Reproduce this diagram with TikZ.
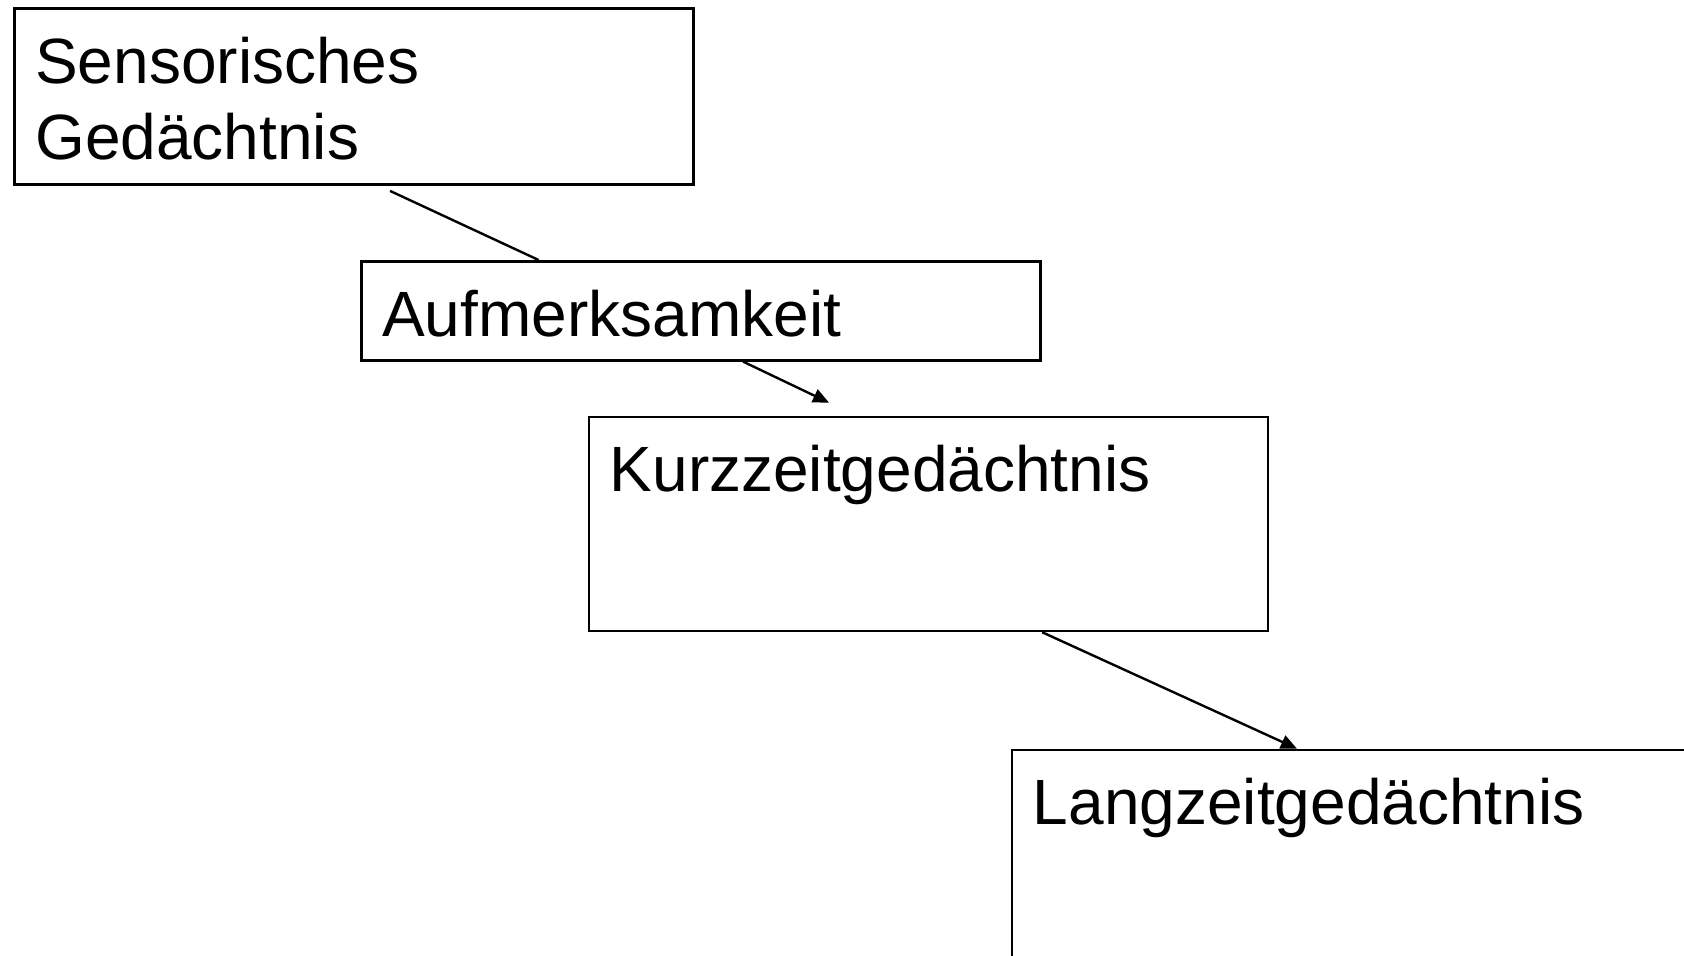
\documentclass[tikz,border=0pt]{standalone}
\usepackage{fontspec}
\setmainfont{Liberation Sans}
\usetikzlibrary{calc,arrows.meta}

\begin{document}
\begin{tikzpicture}[x=0.5pt,y=-0.5pt,
	box/.style={draw,line width=1.3pt,rectangle,anchor=north west,
		inner xsep=10.5pt,inner ysep=0pt,text width=318.5pt,align=left,
		text height=37.5pt,font=\fontsize{32}{38}\selectfont},
	link/.style={line width=1.2pt},
	arr/.style={line width=1.2pt,-{Triangle[length=8pt,width=7pt]}}]
	\useasboundingbox (0,0) rectangle (1684,956);
	\clip (0,0) rectangle (1684,956);
	
	\node[box,text depth=50.5pt] (S) at (13,7.5) {Sensorisches\\Gedächtnis};
	\node[box,text depth=12pt] (A) at (360,260) {Aufmerksamkeit};
	\node[box,text depth=69.5pt] (K) at (587.5,415.6) {Kurzzeitgedächtnis};
	\node[box,text depth=69.5pt] (L) at (1010.6,748.6) {Langzeitgedächtnis};
	
	
	\draw[link,shorten <=5.7pt] ($(S.south west)!0.538!(S.south east)$) -- ($(A.north west)!0.262!(A.north east)$);
	\draw[arr,shorten >=15pt] ($(A.south west)!0.562!(A.south east)$) -- ($(K.north west)!0.394!(K.north east)$);
	\draw[arr] ($(K.south west)!0.667!(K.south east)$) -- ($(L.north west)!0.42!(L.north east)$);
\end{tikzpicture}
\end{document}
